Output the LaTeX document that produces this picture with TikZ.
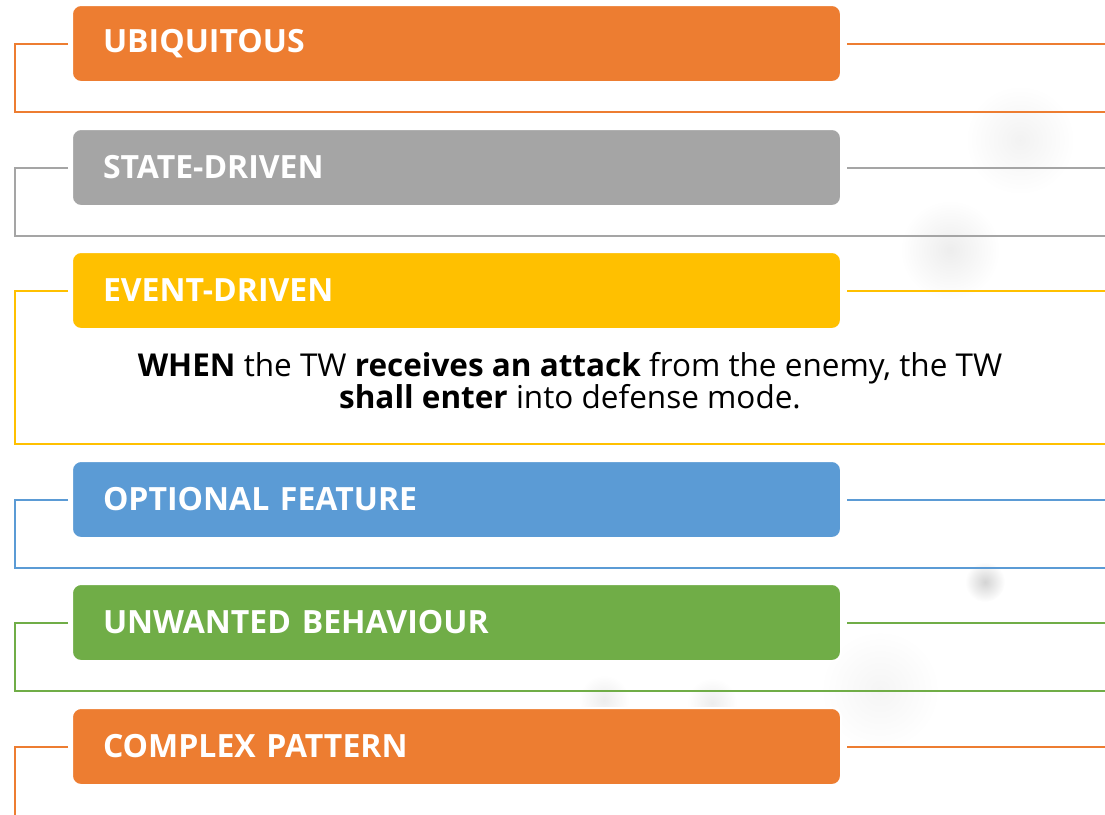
\documentclass[tikz,border=0pt]{standalone}
\usepackage{fontspec}
\setmainfont{Open Sans}
\usetikzlibrary{positioning}

\definecolor{reqorange}{HTML}{ED7D31}
\definecolor{reqgrey}{HTML}{A5A5A5}
\definecolor{reqyellow}{HTML}{FFC000}
\definecolor{reqblue}{HTML}{5B9BD5}
\definecolor{reqgreen}{HTML}{70AD47}

\tikzset{
  reqbox/.style={rectangle, rounded corners=9pt, draw=white, line width=2pt,
    minimum width=769pt, minimum height=77pt, text width=707pt, inner xsep=31pt,
    align=left, text=white, font=\bfseries\fontsize{32}{32}\selectfont},
  frame/.style={line width=2pt},
  haze/.style={inner color=black!#1, outer color=white}
}

\begin{document}
\begin{tikzpicture}[x=1pt,y=-1pt]
  \useasboundingbox (0,0) rectangle (1105,814);

  % faint background
  \shade[haze=7] (950,250) circle (50);
  \shade[haze=5] (1020,140) circle (55);
  \shade[haze=17] (985,582) circle (20);
  \shade[haze=7] (604,700) circle (25);
  \shade[haze=7] (712,703) circle (25);
  \shade[haze=4] (880,690) circle (60);

  % Define nodes
  \node[reqbox, fill=reqorange, anchor=north west] (ubiq) at (71,4) {UBIQUITOUS};
  \node[reqbox, fill=reqgrey, below=45pt of ubiq] (state) {STATE-DRIVEN};
  \node[reqbox, fill=reqyellow, below=44pt of state] (event) {EVENT-DRIVEN};
  \node[reqbox, fill=reqblue, below=130pt of event] (option) {OPTIONAL FEATURE};
  \node[reqbox, fill=reqgreen, below=44pt of option] (unwant) {UNWANTED BEHAVIOUR};
  \node[reqbox, fill=reqorange, below=45pt of unwant] (complex) {COMPLEX PATTERN};

  \node[align=center, font=\fontsize{31.5}{32}\selectfont] (eventtxt) at (570,381)
    {\textbf{WHEN} the TW \textbf{receives an attack} from the enemy, the TW\\
     \textbf{shall enter} into defense mode.};

  % Frame ends
  \coordinate (lft) at (15,0);
  \coordinate (rgt) at (1106,0);
  \coordinate[below=29pt of ubiq] (ubiq-end);
  \coordinate[below=29pt of state] (state-end);
  \coordinate (event-end) at (0,444);
  \coordinate[below=29pt of option] (option-end);
  \coordinate[below=29pt of unwant] (unwant-end);
  \coordinate (complex-end) at (0,840);

  % Connect nodes
  \draw[frame, reqorange] ([xshift=-3pt]ubiq.west) -- (ubiq.west -| lft) |- (ubiq-end -| rgt);
  \draw[frame, reqorange] ([xshift=5pt]ubiq.east) -- (ubiq.east -| rgt);

  \draw[frame, reqgrey] ([xshift=-3pt]state.west) -- (state.west -| lft) |- (state-end -| rgt);
  \draw[frame, reqgrey] ([xshift=5pt]state.east) -- (state.east -| rgt);

  \draw[frame, reqyellow] ([xshift=-3pt]event.west) -- (event.west -| lft) |- (event-end -| rgt);
  \draw[frame, reqyellow] ([xshift=5pt]event.east) -- (event.east -| rgt);

  \draw[frame, reqblue] ([xshift=-3pt]option.west) -- (option.west -| lft) |- (option-end -| rgt);
  \draw[frame, reqblue] ([xshift=5pt]option.east) -- (option.east -| rgt);

  \draw[frame, reqgreen] ([xshift=-3pt]unwant.west) -- (unwant.west -| lft) |- (unwant-end -| rgt);
  \draw[frame, reqgreen] ([xshift=5pt]unwant.east) -- (unwant.east -| rgt);

  \draw[frame, reqorange] ([xshift=-3pt]complex.west) -- (complex.west -| lft) |- (complex-end -| rgt);
  \draw[frame, reqorange] ([xshift=5pt]complex.east) -- (complex.east -| rgt);

\end{tikzpicture}
\end{document}
